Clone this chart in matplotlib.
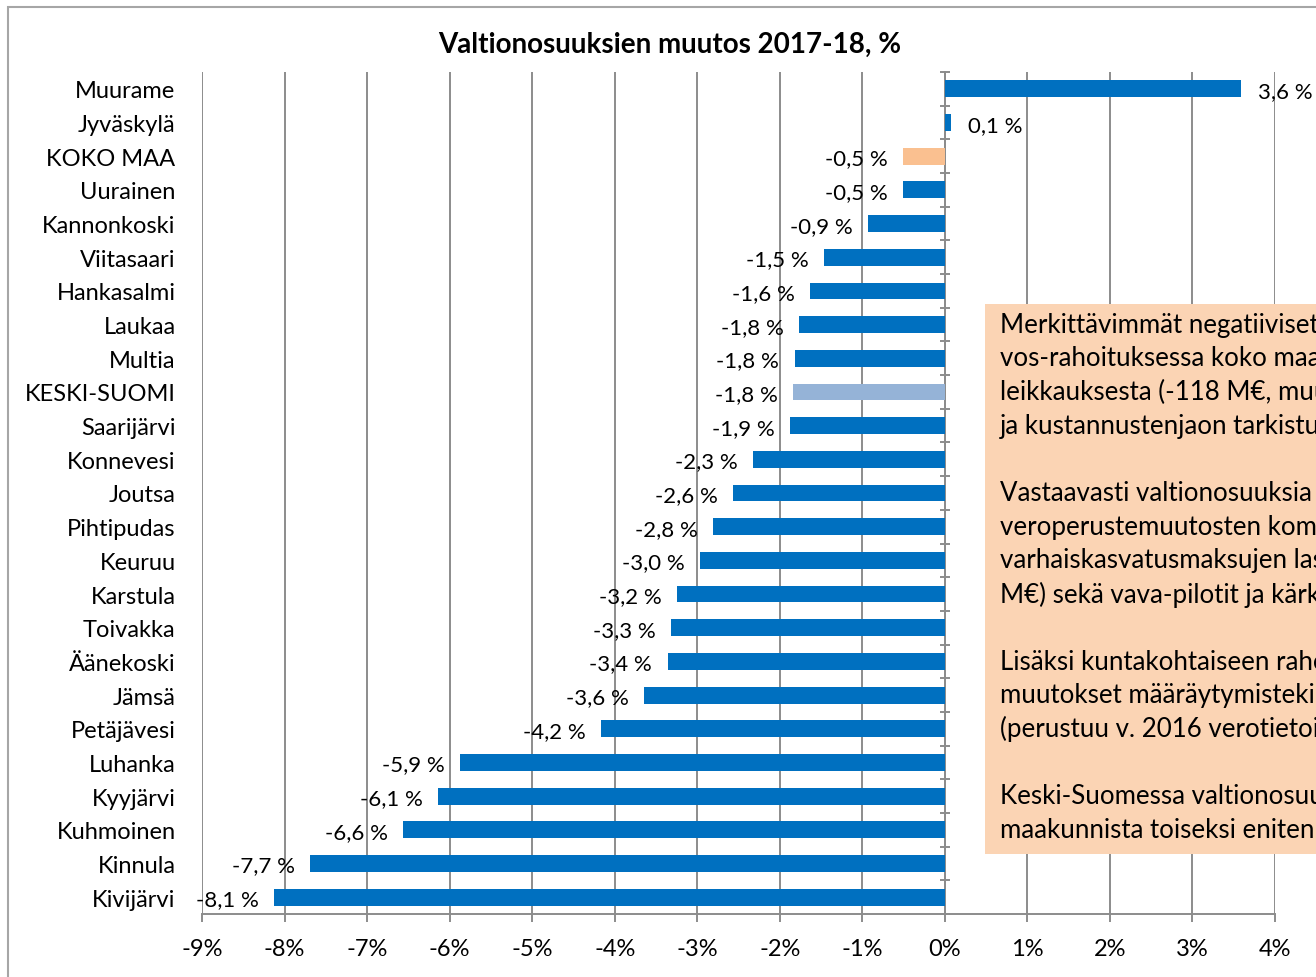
import numpy as np
import matplotlib.pyplot as plt
from matplotlib.patches import Rectangle

plt.rcParams['font.family'] = ['Lato', 'DejaVu Sans']

# ----------------------------
# Data
# ----------------------------

kunnat = [
    "Muurame", "Jyväskylä", "KOKO MAA", "Uurainen", "Kannonkoski",
    "Viitasaari", "Hankasalmi", "Laukaa", "Multia", "KESKI-SUOMI",
    "Saarijärvi", "Konnevesi", "Joutsa", "Pihtipudas", "Keuruu",
    "Karstula", "Toivakka", "Äänekoski", "Jämsä", "Petäjävesi",
    "Luhanka", "Kyyjärvi", "Kuhmoinen", "Kinnula", "Kivijärvi",
]

muutos = [
    3.59, 0.08, -0.51, -0.51, -0.93,
    -1.46, -1.63, -1.77, -1.82, -1.84,
    -1.87, -2.33, -2.57, -2.81, -2.97,
    -3.24, -3.32, -3.36, -3.64, -4.17,
    -5.87, -6.14, -6.56, -7.69, -8.13,
]

x_ticks = list(range(-9, 5))

box_lines = [
    "Merkittävimmät negatiiviset",
    "vos-rahoituksessa koko maa",
    "leikkauksesta (-118 M€, muu",
    "ja kustannustenjaon tarkistu",
    "",
    "Vastaavasti valtionosuuksia",
    "veroperustemuutosten kom",
    "varhaiskasvatusmaksujen las",
    "M€) sekä vava-pilotit ja kärk",
    "",
    "Lisäksi kuntakohtaiseen raho",
    "muutokset määräytymisteki",
    "(perustuu v. 2016 verotietoi",
    "",
    "Keski-Suomessa valtionosuu",
    "maakunnista toiseksi eniten",
]

# ----------------------------
# Colours
# ----------------------------

BLUE = "#0070C0"
ORANGE = "#FAC090"
LIGHT_BLUE = "#95B3D7"
GRID = "#8C8C8C"

colors = []
for k in kunnat:
    if k == "KOKO MAA":
        colors.append(ORANGE)
    elif k == "KESKI-SUOMI":
        colors.append(LIGHT_BLUE)
    else:
        colors.append(BLUE)

# ----------------------------
# Plot
# ----------------------------

W, H = 1316, 978
fig = plt.figure(figsize=(W / 100, H / 100), dpi=100)

# chart frame
fig.patches.append(
    Rectangle((8 / W, -0.1), 1.2, 1 - 8 / H + 0.1,
              transform=fig.transFigure, fill=False,
              edgecolor="#A6A6A6", linewidth=1.5)
)

ax = fig.add_axes([202 / W, 1 - 915 / H, (1275 - 202) / W, (915 - 73) / H])

y = np.arange(len(kunnat))

ax.barh(y, muutos, height=0.5, color=colors, zorder=3)

ax.set_xlim(-9, 4)
ax.set_ylim(len(kunnat) - 0.5, -0.5)

ax.set_xticks(x_ticks)
ax.set_xticklabels([f"{t}%" for t in x_ticks])
ax.grid(axis="x", color=GRID, linewidth=1.4, zorder=0)

ax.set_yticks(y)
ax.set_yticklabels(kunnat)
ax.tick_params(axis="y", length=0, pad=19, labelsize=17)
ax.tick_params(axis="x", direction="out", length=6, color=GRID,
               width=1.4, pad=11, labelsize=17)

for s in ["top", "right", "left"]:
    ax.spines[s].set_visible(False)
ax.spines["bottom"].set_color(GRID)
ax.spines["bottom"].set_linewidth(1.4)

# category axis at 0 %
sec = ax.secondary_yaxis(9 / 13)
sec.set_yticks(np.arange(-0.5, len(kunnat), 1))
sec.set_yticklabels([])
sec.tick_params(direction="inout", length=7, color=GRID, width=1.4)
sec.spines["right"].set_color(GRID)
sec.spines["left"].set_color(GRID)
sec.spines["left"].set_linewidth(1.4)
sec.spines["right"].set_linewidth(1.4)

# value labels
for yi, v in zip(y, muutos):
    label = f"{v:.1f} %".replace(".", ",")
    if v >= 0:
        ax.annotate(label, (v, yi), xytext=(12, -1.5),
                    textcoords="offset points", ha="left", va="center",
                    fontsize=16, zorder=4)
    else:
        ax.annotate(label, (v, yi), xytext=(-11, -1.5),
                    textcoords="offset points", ha="right", va="center",
                    fontsize=16, zorder=4)

fig.text(670 / W, 1 - 45 / H, "Valtionosuuksien muutos 2017-18, %",
         ha="center", va="center", fontsize=20, fontweight="bold")

# ----------------------------
# Text box (runs past the right edge, as in the source)
# ----------------------------

fig.patches.append(
    Rectangle((985 / W, 1 - 855 / H), 0.5, (855 - 305) / H,
              transform=fig.transFigure, facecolor="#FBD4B4",
              edgecolor="none", zorder=5)
)

for i, line in enumerate(box_lines):
    fig.text(1000 / W, 1 - (325 + i * 33.7) / H, line,
             ha="left", va="center", fontsize=18.6, zorder=6)

fig.savefig("out.png", dpi=100)
